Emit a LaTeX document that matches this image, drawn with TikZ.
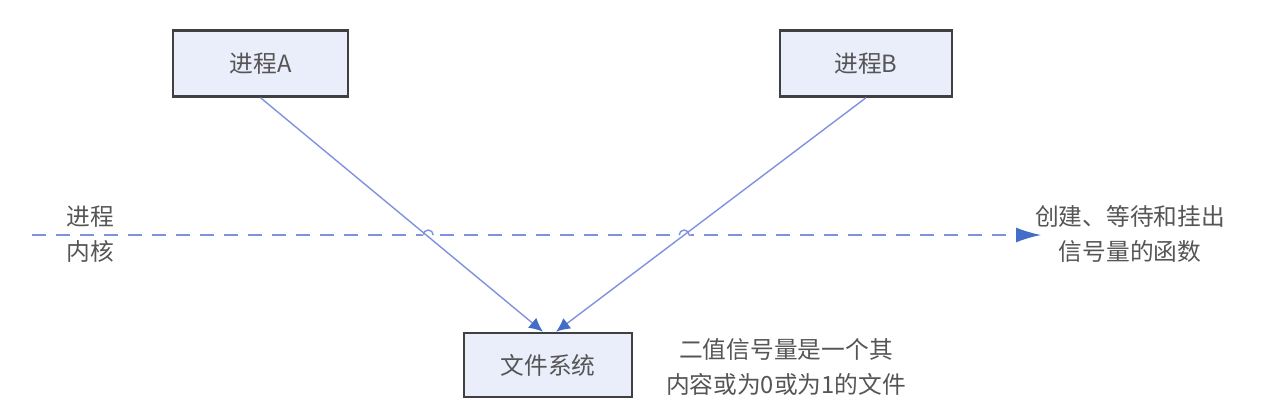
\documentclass[tikz,border=0pt]{standalone}
\usepackage{fontspec}
\setmainfont{Liberation Serif}
\newfontfamily\cjk{Noto Sans CJK SC}
\usetikzlibrary{arrows.meta,intersections}
\definecolor{boxfill}{RGB}{234,237,250}
\definecolor{linkblue}{RGB}{128,146,222}
\definecolor{tipblue}{RGB}{66,110,200}
\definecolor{txtgray}{RGB}{85,85,85}
\begin{document}
\begin{tikzpicture}
  [x=0.02cm,y=-0.02cm,
   proc/.style={rectangle,draw=black!75,line width=1.4pt,fill=boxfill,
     minimum width=3.5cm,minimum height=1.32cm,inner sep=0pt,
     text=txtgray,font=\cjk\fontsize{13.5}{16}\selectfont},
   lbl/.style={align=center,text=txtgray,font=\cjk\fontsize{13.5}{17}\selectfont},
   link/.style={draw=linkblue,line width=0.8pt,-{Latex[length=2.8mm,width=2.6mm,color=tipblue]}},
   hop/.style={draw=linkblue,line width=0.8pt,preaction={draw=white,line width=2pt}}]
\useasboundingbox (0,0) rectangle (1268,418); % adjust bounding box
\node at (260.5,63.5) (A) [proc] {进程A};
\node at (866,63.5) (B) [proc, minimum width=3.44cm] {进程B};
\node at (548,365) (F) [proc, minimum width=3.36cm, minimum height=1.28cm] {文件系统};
\coordinate (kl) at (32,235);
\coordinate (kr) at (1041,235);
%
\draw [link, dash pattern=on 0.28cm off 0.2cm,
  -{Latex[length=5mm,width=3mm,color=tipblue]}, name path=kern] (kl) -- (kr);
\path [name path=pa] (A.south) -- ([xshift=-0.1cm]F.north);
\path [name path=pb] (B.south) -- ([xshift=0.16cm]F.north);
% hops over the kernel line
\path [name intersections={of=kern and pa,by=ha}];
\path [name intersections={of=kern and pb,by=hb}];
\draw [white, line width=2pt] ([xshift=-0.06cm]ha) -- ++(0.2cm,0);
\draw [white, line width=2pt] ([xshift=-0.1cm]hb) -- ++(0.2cm,0);
\draw [hop] ([xshift=-0.06cm]ha) arc (180:0:0.1cm);
\draw [hop] ([xshift=-0.1cm]hb) arc (180:0:0.1cm);
%
\draw [link] (A.south) -- ([xshift=-0.1cm]F.north);
\draw [link] (B.south) -- ([xshift=0.16cm]F.north);
%
\node at (90,234) (kt) [lbl] {进程\\[3pt]内核};
\node at (1130,234) (fn) [lbl] {创建、等待和挂出\\[3pt]信号量的函数};
\node at (786,367) (note) [lbl] {二值信号量是一个其\\[3pt]内容或为0或为1的文件};
\end{tikzpicture}
\end{document}
